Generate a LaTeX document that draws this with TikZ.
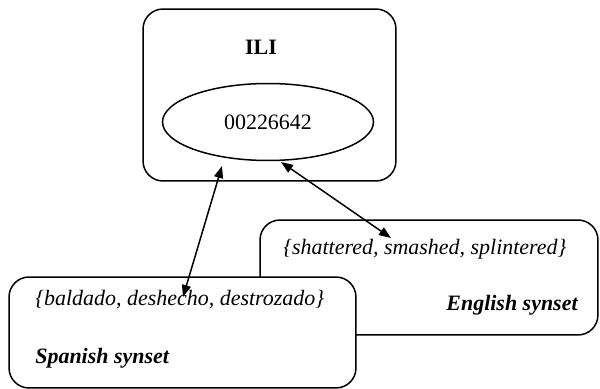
\documentclass[tikz,border=0pt]{standalone}
\usepackage{fontspec}
\setmainfont{Liberation Serif}
\usetikzlibrary{shapes.geometric,arrows.meta}

\tikzset{
	synbox/.style={draw, rounded corners=0.4cm, fill=white, line width=0.85pt},
	link/.style={{Triangle[length=2.4mm,width=1.8mm]}-{Triangle[length=2.4mm,width=1.8mm]}, line width=0.85pt},
	txt/.style={inner sep=0pt, font=\fontsize{12.5}{15}\selectfont}
}

\begin{document}
\begin{tikzpicture}[x=0.02cm, y=-0.02cm]
	\useasboundingbox (0,0) rectangle (600,389);
	% ILI box
	\node[synbox, minimum width=5.06cm, minimum height=3.44cm] (ili) at (269.5,95) {};
	\node[txt, font=\fontsize{12.5}{15}\selectfont\bfseries] (iliname) at (261,47) {ILI};
	\node[ellipse, draw, line width=0.85pt, minimum width=4.22cm, minimum height=1.54cm, txt] (code) at (268,122) {00226642};
	% English synset (behind)
	\node[synbox, minimum width=6.76cm, minimum height=2.3cm] (enbox) at (429,277.5) {};
	\node[txt, anchor=west] (enwords) at (283,249) {\itshape\{shattered, smashed, splintered\}};
	\node[txt, anchor=east] (enname) at (578,305) {\bfseries\itshape English synset};
	% Spanish synset (front)
	\node[synbox, minimum width=6.94cm, minimum height=2.22cm] (esbox) at (182.5,332.5) {};
	\node[txt, anchor=west] (eswords) at (35,300) {\itshape\{baldado, deshecho, destrozado\}};
	\node[txt, anchor=west] (esname) at (35,358) {\bfseries\itshape Spanish synset};
	% links
	\coordinate (estop) at (222,166);
	\coordinate (esend) at (183,297);
	\coordinate (entop) at (281,162);
	\coordinate (enend) at (391,238);
	\draw[link] (estop) -- (esend);
	\draw[link] (entop) -- (enend);
\end{tikzpicture}
\end{document}
